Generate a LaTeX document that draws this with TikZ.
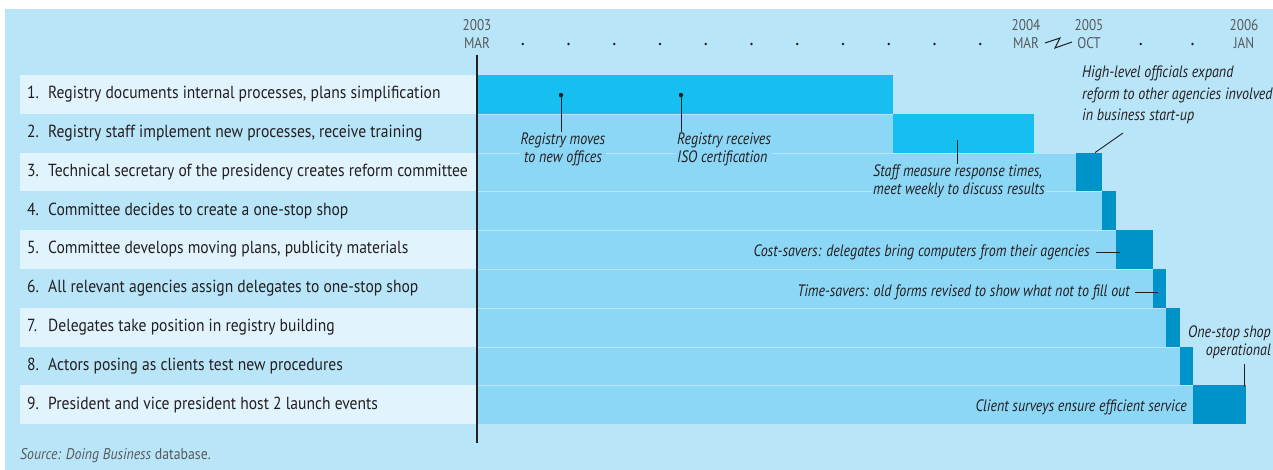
\documentclass[tikz,border=0pt]{standalone}
\usepackage{fontspec}
\setmainfont{PT Sans}
\newfontfamily\rowfont[FakeStretch=0.89]{PT Sans}
\newfontfamily\condfont[FakeStretch=0.85]{PT Sans}

\definecolor{bgblue}{HTML}{B9E5F9}
\definecolor{labelbox}{HTML}{E1F4FD}
\definecolor{lightbar}{HTML}{8DD7F6}
\definecolor{brightbar}{HTML}{17BEF0}
\definecolor{darkbar}{HTML}{0093C9}
\definecolor{inkgray}{HTML}{58595B}
\definecolor{ink}{HTML}{231F20}

\tikzset{
  rowlabel/.style={anchor=west,inner sep=0pt,text=ink,font=\rowfont\fontsize{17.5}{19}\selectfont},
  note/.style={inner sep=1pt,text=ink,fill=lightbar,font=\condfont\itshape\fontsize{16.5}{18}\selectfont},
  datelabel/.style={align=center,inner sep=0pt,text=inkgray,font=\condfont\fontsize{15.5}{18}\selectfont},
  leader/.style={line width=0.9pt,ink},
}

\begin{document}
\begin{tikzpicture}[x=1pt,y=-1pt]

  \useasboundingbox (0,0) rectangle (1273,470);
  \fill[bgblue] (5,9) rectangle (1273,470);

  % label bands
  \foreach \r in {1,3,5,7,9}
    \fill[labelbox] (20,{75+(\r-1)*38.8}) rectangle (476,{75+\r*38.8});

  % bars
  \foreach \r/\e in {2/893,3/1076,4/1102,5/1116,6/1153,7/1166,8/1180,9/1193}
    \fill[lightbar] (478,{75+(\r-1)*38.8+1}) rectangle (\e,{75+\r*38.8});
  \fill[brightbar] (478,75) rectangle (893,113.8);
  \fill[brightbar] (893,113.8) rectangle (1034,152.6);
  \foreach \r/\s/\e in {3/1076/1102,4/1102/1116,5/1116/1153,6/1153/1166,7/1166/1180,8/1180/1193,9/1193/1246}
    \fill[darkbar] (\s,{75+(\r-1)*38.8}) rectangle (\e,{75+\r*38.8});

  % steps
  \node[rowlabel] (step1) at (27,94.4) {\makebox[21pt][l]{1.}Registry documents internal processes, plans simplification};
  \node[rowlabel] (step2) at (27,133.2) {\makebox[21pt][l]{2.}Registry staff implement new processes, receive training};
  \node[rowlabel] (step3) at (27,172.0) {\makebox[21pt][l]{3.}Technical secretary of the presidency creates reform committee};
  \node[rowlabel] (step4) at (27,210.8) {\makebox[21pt][l]{4.}Committee decides to create a one-stop shop};
  \node[rowlabel] (step5) at (27,249.6) {\makebox[21pt][l]{5.}Committee develops moving plans, publicity materials};
  \node[rowlabel] (step6) at (27,288.4) {\makebox[21pt][l]{6.}All relevant agencies assign delegates to one-stop shop};
  \node[rowlabel] (step7) at (27,327.2) {\makebox[21pt][l]{7.}Delegates take position in registry building};
  \node[rowlabel] (step8) at (27,366.0) {\makebox[21pt][l]{8.}Actors posing as clients test new procedures};
  \node[rowlabel] (step9) at (27,404.8) {\makebox[21pt][l]{9.}President and vice president host 2 launch events};

  % time axis
  \coordinate (axistop) at (477,55);
  \coordinate (axisbot) at (477,443);
  \draw[line width=1.5pt,ink] (axistop) -- (axisbot);

  \node[datelabel] (mar03) at (477,34) {2003\\MAR};
  \node[datelabel] (mar04) at (1026,34) {2004\\MAR};
  \node[datelabel] (oct05) at (1089,34) {2005\\OCT};
  \node[datelabel] (jan06) at (1244,34) {2006\\JAN};
  \foreach \k in {1,...,11}
    \fill[ink] ({477+45.75*\k},44) circle [radius=1.4];
  \foreach \k in {1,2}
    \fill[ink] ({1089+51.7*\k},44) circle [radius=1.4];
  \draw[line width=1pt,ink] (1045,43) -- (1060,38) -- (1055,48) -- (1072,42);

  % notes
  \coordinate (moves) at (561,95);
  \coordinate (iso) at (681,95);
  \fill[ink] (moves) circle [radius=2.2];
  \fill[ink] (iso) circle [radius=2.2];
  \node[note,anchor=north,align=center] (movesnote) at (563,132) {Registry moves\\to new offices};
  \node[note,anchor=north west,align=left] (isonote) at (676,132) {Registry receives\\ISO certification};
  \draw[leader] (moves) -- (moves |- movesnote.north);
  \draw[leader] (iso) -- (iso |- isonote.north);

  \coordinate (staff) at (957,140);
  \node[note,anchor=north west,align=left] (staffnote) at (872,164) {Staff measure response times,\\meet weekly to discuss results};
  \draw[leader] (staff) -- (staff |- staffnote.north);

  \node[note,fill=none,anchor=north west,align=left,font=\condfont\itshape\fontsize{16.5}{21.5}\selectfont] (highnote) at (1081,65) {High-level officials expand\\reform to other agencies involved\\in business start-up};
  \coordinate (highfoot) at (1123,133);
  \coordinate (highblock) at (1095,152.6);
  \draw[leader] (highfoot) -- (highblock);

  \node[note,anchor=east] (costnote) at (1091,252) {Cost-savers: delegates bring computers from their agencies};
  \coordinate (costblock) at (1120,252);
  \draw[leader] ([xshift=5pt]costnote.east) -- (costblock);

  \node[note,anchor=east] (timenote) at (1131,292) {Time-savers: old forms revised to show what not to fill out};
  \coordinate (timeblock) at (1158,292);
  \draw[leader] ([xshift=4pt]timenote.east) -- (timeblock);

  \node[note,fill=none,anchor=south east,align=right] (opennote) at (1272,360) {One-stop shop\\operational};
  \coordinate (openblock) at (1244,386.8);
  \draw[leader] (openblock |- opennote.south) ++(0,4) -- (openblock);

  \node[note,anchor=east] (clientnote) at (1188,407) {Client surveys ensure efficient service};

  % source
  \node[anchor=west,inner sep=0pt,text=inkgray,font=\rowfont\fontsize{15.5}{16}\selectfont] (source) at (20,456) {\itshape Source: Doing Business\upshape{} database.};

\end{tikzpicture}
\end{document}
